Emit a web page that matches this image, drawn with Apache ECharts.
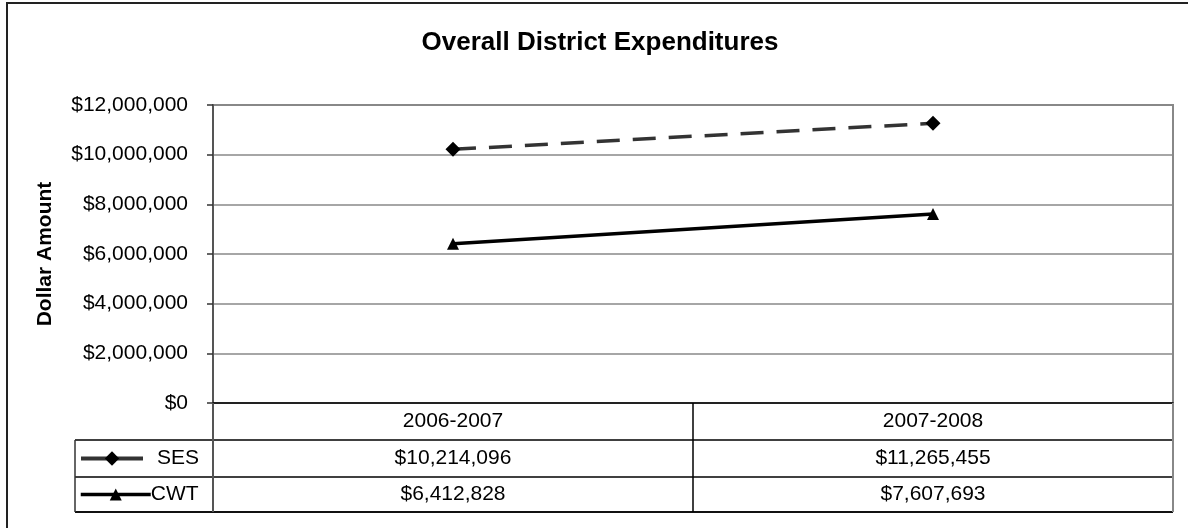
<!DOCTYPE html>
<html>
<head>
<meta charset="utf-8">
<script src="https://cdn.jsdelivr.net/npm/echarts@6/dist/echarts.min.js"></script>
<style>
html,body{margin:0;padding:0;background:#fff;}
#c{width:1188px;height:528px;}
</style>
</head>
<body>
<div id="c"></div>
<script>
const titleText = 'Overall District Expenditures';
const yAxisName = 'Dollar Amount';
const categories = ['2006-2007', '2007-2008'];
const seriesNames = ['SES', 'CWT'];
const sesValues = [10214096, 11265455];
const cwtValues = [6412828, 7607693];
const yMin = 0, yMax = 12000000, yInterval = 2000000;

const FONT = '"Liberation Sans", Arial, sans-serif';
const money = v => '$' + Math.round(v).toLocaleString('en-US');

const chart = echarts.init(document.getElementById('c'), null, {renderer: 'canvas'});

const GRID = {left: 213, right: 15, top: 105, bottom: 125};

const option = {
  animation: false,
  backgroundColor: '#fff',
  title: {
    text: titleText,
    left: 595,
    textAlign: 'center',
    top: 25,
    textStyle: {fontFamily: FONT, fontSize: 26, fontWeight: 'bold', color: '#000'}
  },
  legend: [
    {
      data: [seriesNames[0]],
      left: 79, top: 448, orient: 'horizontal', padding: 0,
      itemWidth: 62, itemHeight: 18, itemGap: 0,
      lineStyle: {width: 4, type: 'solid', color: '#333'},
      textStyle: {fontFamily: FONT, fontSize: 21, color: '#000', padding: [0, 0, 0, 9]},
      selectedMode: false
    },
    {
      data: [seriesNames[1]],
      left: 79, top: 484, orient: 'horizontal', padding: 0,
      itemWidth: 70, itemHeight: 15, itemGap: 0,
      lineStyle: {width: 3.5, type: 'solid', color: '#000'},
      textStyle: {fontFamily: FONT, fontSize: 21, color: '#000', padding: [0, 0, 0, -5]},
      selectedMode: false
    }
  ],
  grid: {
    left: GRID.left, right: GRID.right, top: GRID.top, bottom: GRID.bottom,
    show: true, borderColor: '#888', borderWidth: 2, backgroundColor: 'transparent'
  },
  xAxis: {
    type: 'category',
    data: categories,
    boundaryGap: true,
    axisLine: {show: true, lineStyle: {color: '#000', width: 1.5}},
    axisTick: {show: false},
    splitLine: {show: false},
    axisLabel: {fontFamily: FONT, fontSize: 21, color: '#000', margin: 8}
  },
  yAxis: {
    type: 'value',
    min: yMin, max: yMax, interval: yInterval,
    name: yAxisName,
    nameLocation: 'middle',
    nameRotate: 90,
    nameGap: 157,
    nameTextStyle: {fontFamily: FONT, fontSize: 21, fontWeight: 'bold', color: '#000'},
    axisLine: {show: true, lineStyle: {color: '#555', width: 2}},
    axisTick: {show: true, length: 6, lineStyle: {color: '#333', width: 1.5}},
    splitLine: {show: true, lineStyle: {color: '#888', width: 1.5}},
    axisLabel: {fontFamily: FONT, fontSize: 21, color: '#000', margin: 25, formatter: v => money(v)}
  },
  series: [
    {
      name: seriesNames[0],
      type: 'line',
      data: sesValues,
      symbol: 'diamond',
      symbolSize: 15,
      itemStyle: {color: '#000'},
      lineStyle: {color: '#333', width: 3.5, type: [23, 13]},
      z: 3
    },
    {
      name: seriesNames[1],
      type: 'line',
      data: cwtValues,
      symbol: 'triangle',
      symbolSize: 12,
      itemStyle: {color: '#000'},
      lineStyle: {color: '#000', width: 3.5},
      z: 3
    }
  ]
};
chart.setOption(option);

function buildTable() {
  const xs = categories.map(c => chart.convertToPixel({xAxisIndex: 0}, c));
  const yBase = chart.convertToPixel({yAxisIndex: 0}, yMin);
  const band = xs.length > 1 ? xs[1] - xs[0] : 480;
  const xLeft = xs[0] - band / 2;
  const xRight = xs[xs.length - 1] + band / 2;
  const tableLeft = 75;
  const r1 = yBase + 37, r2 = yBase + 74, r3 = yBase + 109;
  const g = [];
  const line = (x1, y1, x2, y2, color, w) => g.push({
    type: 'line', shape: {x1, y1, x2, y2}, style: {stroke: color, lineWidth: w}, z: 10, silent: true
  });
  line(tableLeft, r1, xRight, r1, '#000', 1.5);
  line(tableLeft, r2, xRight, r2, '#000', 1.5);
  line(tableLeft, r3, xRight, r3, '#111', 2);
  line(tableLeft, r1, tableLeft, r3, '#333', 1.5);
  line(xLeft, yBase, xLeft, r3, '#555', 2);
  for (let i = 1; i < xs.length; i++) {
    const xm = (xs[i - 1] + xs[i]) / 2;
    line(xm, yBase, xm, r3, '#000', 1.5);
  }
  line(xRight, yBase, xRight, r3, '#888', 2);
  const rows = [[sesValues, (r1 + r2) / 2], [cwtValues, (r2 + r3) / 2]];
  rows.forEach(([vals, yc]) => {
    vals.forEach((v, i) => {
      g.push({
        type: 'text', x: xs[i], y: yc, z: 11, silent: true,
        style: {text: money(v), fontFamily: FONT, fontSize: 21, fill: '#000', align: 'center', verticalAlign: 'middle'}
      });
    });
  });
  g.push({type: 'rect', shape: {x: 7, y: 3, width: 1300, height: 700},
    style: {fill: 'none', stroke: '#222', lineWidth: 2}, z: 0, silent: true});
  chart.setOption({graphic: g});
}
buildTable();
</script>
</body>
</html>
